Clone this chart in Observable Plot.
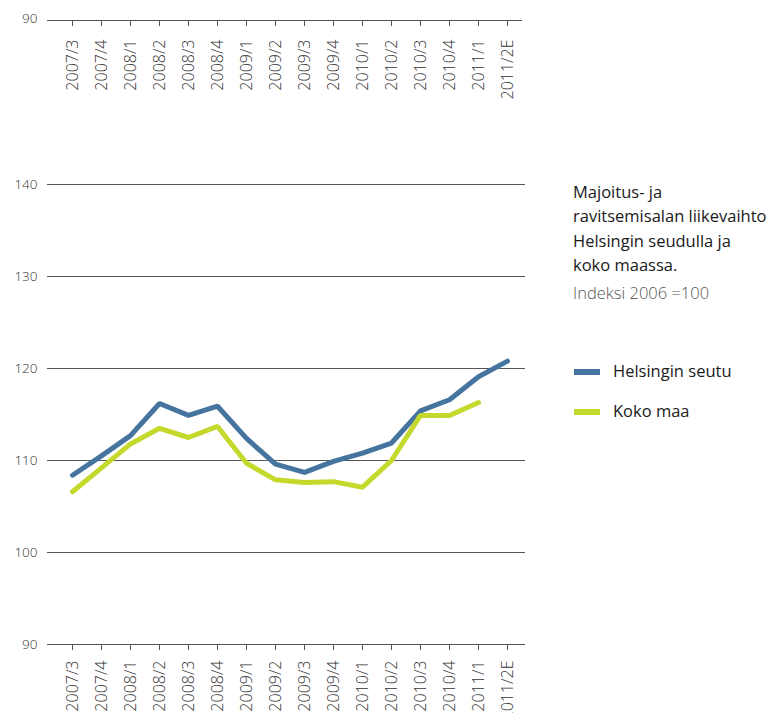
<!DOCTYPE html>
<html><head><meta charset="utf-8">
<script src="https://cdn.jsdelivr.net/npm/d3@7"></script>
<script src="https://cdn.jsdelivr.net/npm/@observablehq/plot@0.6"></script>
<style>
body{margin:0;background:#fff;font-family:"Open Sans",sans-serif;}
#wrap{position:relative;width:771px;height:713px;overflow:hidden}
#topstrip{position:absolute;left:0;top:0}
#main{position:absolute;left:0;top:110px}
#wrap svg g[aria-label="x-axis tick label"] text{font-size:16px;font-weight:300;fill:#333}
#wrap svg g[aria-label="y-axis tick label"] text{font-size:13.5px;font-weight:300;fill:#333}
#title{position:absolute;left:573px;top:180px;font-size:16.5px;line-height:24.3px;color:#1a1a1a;font-weight:500;white-space:nowrap}
#sub{position:absolute;left:573px;top:281px;font-size:16.5px;line-height:24px;color:#555;font-weight:300}
.leg{position:absolute;left:574px;font-size:16.5px;color:#1a1a1a;height:24px;line-height:24px;white-space:nowrap}
.sw{display:inline-block;width:26px;height:6px;vertical-align:middle;margin-right:13px;position:relative;top:-1px}
</style></head>
<body><div id="wrap"><div id="topstrip"></div><div id="main"></div>
<div id="title"></div><div id="sub"></div><div id="legend"></div></div>
<script>
const quarters = ["2007/3","2007/4","2008/1","2008/2","2008/3","2008/4","2009/1","2009/2","2009/3","2009/4","2010/1","2010/2","2010/3","2010/4","2011/1","2011/2E"];
const helsinki = [108.4,110.5,112.7,116.2,114.9,115.9,112.4,109.6,108.7,109.9,110.8,111.9,115.4,116.6,119.1,120.8];
const kokoMaa  = [106.6,109.2,111.8,113.5,112.5,113.7,109.7,107.9,107.6,107.7,107.1,110.0,114.9,114.9,116.3,null];
const yTicks = [90,100,110,120,130,140];
const seriesNames = ["Helsingin seutu","Koko maa"];
const seriesColors = ["#45749e","#c5d92d"];
const titleLines = ["Majoitus- ja","ravitsemisalan liikevaihto","Helsingin seudulla ja","koko maassa."];
const subtitle = "Indeksi 2006 =100";

const rows = [];
quarters.forEach((q,i)=>{
  rows.push({q, v: helsinki[i], s: seriesNames[0]});
  if (kokoMaa[i] != null) rows.push({q, v: kokoMaa[i], s: seriesNames[1]});
});

const xScale = {type:"point", domain: quarters, range:[56,522]};
const font = {fontFamily:"Open Sans, sans-serif", fontSize:"13px", color:"#444", background:"transparent"};

// top strip (duplicate axis)
const topPlot = Plot.plot({
  width: 771, height: 110, marginTop: 10, marginBottom: 90, marginLeft: 47, marginRight: 249,
  style: font,
  x: xScale,
  y: {domain:[90,91], range:[20,10]},
  marks: [
    Plot.ruleY([90], {stroke:"#555", strokeWidth:1.2}),
    Plot.axisY([90], {tickSize:0, tickPadding:10, label:null, dy:-2}),
    Plot.axisX({anchor:"bottom", tickSize:6, tickPadding:13, tickRotate:-90, stroke:"#555", label:null})
  ]
});
document.getElementById("topstrip").appendChild(topPlot);

const mainPlot = Plot.plot({
  width: 771, height: 603, marginTop: 74, marginBottom: 69, marginLeft: 47, marginRight: 246,
  style: font,
  x: xScale,
  y: {domain:[90,140], range:[534,74]},
  color: {domain: seriesNames, range: seriesColors},
  marks: [
    Plot.ruleY(yTicks, {stroke:"#555", strokeWidth:1.2}),
    Plot.axisY(yTicks, {tickSize:0, tickPadding:10, label:null}),
    Plot.axisX({anchor:"bottom", tickSize:6, tickPadding:10, tickRotate:-90, stroke:"#555", label:null}),
    Plot.lineY(rows, {x:"q", y:"v", z:"s", stroke:"s", strokeWidth:5, strokeLinejoin:"miter", strokeLinecap:"round"})
  ]
});
document.getElementById("main").appendChild(mainPlot);

document.getElementById("title").innerHTML = titleLines.join("<br>");
document.getElementById("sub").textContent = subtitle;
const leg = document.getElementById("legend");
seriesNames.forEach((n,i)=>{
  const d = document.createElement("div");
  d.className = "leg";
  d.style.top = (359 + i*40) + "px";
  d.innerHTML = `<span class="sw" style="background:${seriesColors[i]}"></span>${n}`;
  leg.appendChild(d);
});
</script></body></html>
